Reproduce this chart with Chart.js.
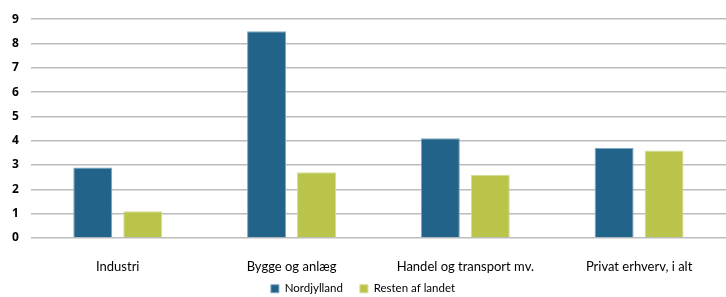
<!DOCTYPE html>
<html>
<head>
<meta charset="utf-8">
<script src="https://cdn.jsdelivr.net/npm/chart.js@4/dist/chart.umd.min.js"></script>
<style>
  html, body { margin: 0; padding: 0; background: #fff; }
  #wrap { width: 726px; height: 297px; }
</style>
</head>
<body>
<div id="wrap"><canvas id="chart" width="726" height="297"></canvas></div>
<script>
// categories and series
const categories = ['Industri', 'Bygge og anlæg', 'Handel og transport mv.', 'Privat erhverv, i alt'];
const nordjylland = [2.9, 8.5, 4.1, 3.7];
const restenAfLandet = [1.1, 2.7, 2.6, 3.6];
const yTicks = [0, 1, 2, 3, 4, 5, 6, 7, 8, 9];

// squeeze the legend box so it sits close to the bottom edge,
// while keeping wide gaps between the two items
const legendFit = {
  id: 'legendFit',
  beforeLayout(chart) {
    const lg = chart.legend;
    if (!lg || lg._patched) return;
    const fit = lg.fit;
    lg.fit = function () { fit.call(this); this.height = 24; };
    lg._patched = true;
  },
  afterLayout(chart) {
    const lg = chart.legend;
    if (!lg) return;
    // grow the box upwards, overlapping the x axis area
    lg.top -= 7;
    lg.height += 7;
  }
};

const ctx = document.getElementById('chart').getContext('2d');
new Chart(ctx, {
  type: 'bar',
  data: {
    labels: categories,
    datasets: [
      {
        label: 'Nordjylland',
        data: nordjylland,
        backgroundColor: '#226489',
        borderColor: '#7fa6c0',
        borderWidth: 1
      },
      {
        label: 'Resten af landet',
        data: restenAfLandet,
        backgroundColor: '#bac44a',
        borderColor: '#d6dd94',
        borderWidth: 1
      }
    ]
  },
  plugins: [legendFit],
  options: {
    responsive: false,
    animation: false,
    categoryPercentage: 0.575,
    barPercentage: 0.78,
    layout: { padding: { top: 11, right: 0, left: 0, bottom: 0 } },
    plugins: {
      legend: {
        position: 'bottom',
        labels: {
          boxWidth: 8,
          boxHeight: 8,
          padding: 17,
          color: '#000',
          font: { family: 'Lato', size: 11.5 }
        }
      },
      tooltip: { enabled: false }
    },
    scales: {
      x: {
        grid: { display: false },
        border: { display: false },
        afterFit: s => { s.height = 35; },
        ticks: {
          color: '#000',
          padding: 13,
          font: { family: 'Lato', size: 13 }
        }
      },
      y: {
        min: 0,
        max: 9,
        afterBuildTicks: axis => { axis.ticks = yTicks.map(v => ({ value: v })); },
        grid: { color: '#bcbcbc', lineWidth: 1.5, drawTicks: false },
        border: { display: false },
        ticks: {
          color: '#000',
          padding: 12,
          font: { family: 'Open Sans', size: 12, weight: 'bold' }
        }
      }
    }
  }
});
</script>
</body>
</html>
